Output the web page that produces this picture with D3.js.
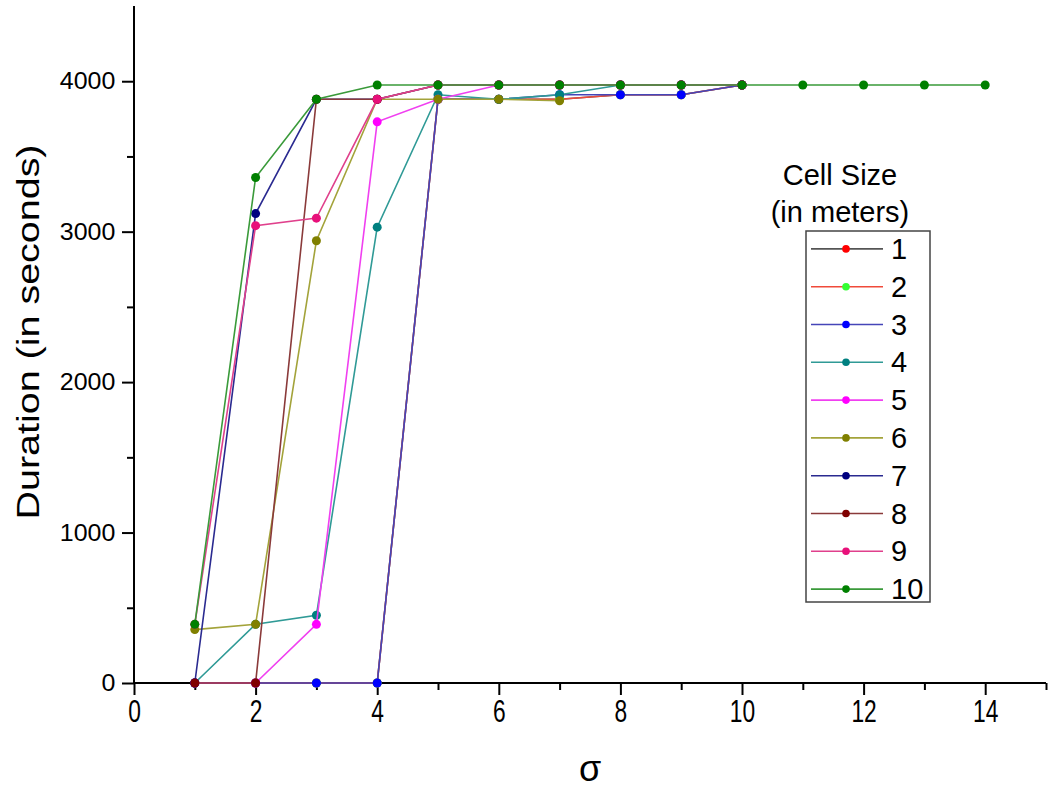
<!DOCTYPE html>
<html>
<head>
<meta charset="utf-8">
<script src="https://cdn.jsdelivr.net/npm/d3@7"></script>
<style>
  body { margin: 0; background: #fff; }
  text { font-family: "Liberation Sans", Arial, sans-serif; fill: #000; }
</style>
</head>
<body>
<div id="chart"></div>
<script>
// sigma values on the x axis
const sigma = [1, 2, 3, 4, 5, 6, 7, 8, 9, 10, 11, 12, 13, 14];

// duration (s) per cell size
const cell1 = [0, 0, 0, 0, 3880, 3880, 3880, 3910, 3910, 3975];
const cell2 = [0, 0, 0, 0, 3880, 3880, 3880, 3910, 3910, 3975];
const cell3 = [0, 0, 0, 0, 3880, 3880, 3910, 3910, 3910, 3975];
const cell4 = [0, 390, 450, 3030, 3910, 3880, 3910, 3975, 3975, 3975];
const cell5 = [0, 0, 390, 3730, 3880, 3975, 3975, 3975, 3975, 3975];
const cell6 = [355, 390, 2940, 3880, 3880, 3880, 3870];
const cell7 = [0, 3120, 3880, 3880, 3975, 3975, 3975, 3975, 3975, 3975];
const cell8 = [0, 0, 3880, 3880, 3975, 3975, 3975, 3975, 3975, 3975];
const cell9 = [390, 3040, 3090, 3880, 3975, 3975, 3975, 3975, 3975, 3975];
const cell10 = [390, 3360, 3880, 3975, 3975, 3975, 3975, 3975, 3975, 3975, 3975, 3975, 3975, 3975];

const seriesNames = ["1", "2", "3", "4", "5", "6", "7", "8", "9", "10"];
const seriesValues = [cell1, cell2, cell3, cell4, cell5, cell6, cell7, cell8, cell9, cell10];

// line colour / marker colour for each series
const lineColors = ["#555555", "#f04a3a", "#4545b8", "#2f9a96", "#f040f0", "#a3a33a", "#2a2a90", "#8a3a3a", "#e0408c", "#3a9a3a"];
const dotColors = ["#ff0000", "#33ff33", "#0000ff", "#008080", "#ff00ff", "#808000", "#000080", "#800000", "#e8107a", "#008000"];

const xTicks = [0, 1, 2, 3, 4, 5, 6, 7, 8, 9, 10, 11, 12, 13, 14, 15];
const yTicks = [0, 500, 1000, 1500, 2000, 2500, 3000, 3500, 4000];

const W = 1050, H = 791;

const svg = d3.select("#chart")
  .append("svg")
  .attr("width", W)
  .attr("height", H);

const x = d3.scaleLinear().domain([0, 15]).range([134, 1046]);
const y = d3.scaleLinear().domain([0, 4500]).range([683, 6]);

// y axis: major ticks every 1000 with labels, minor every 500
const yAxis = svg.append("g")
  .attr("transform", "translate(" + x(0) + ",0)")
  .call(d3.axisLeft(y)
    .tickValues(yTicks)
    .tickSize(12)
    .tickPadding(6)
    .tickFormat(d => d % 1000 === 0 ? d : ""));
yAxis.select(".domain").attr("d", "M0," + y(4500) + "V" + y(0));
yAxis.selectAll(".tick line")
  .attr("x2", d => d % 1000 === 0 ? -12 : -7);
yAxis.selectAll("text")
  .attr("transform", "scale(1.04,1)")
  .style("font-size", "24px")
  .style("font-family", "Liberation Sans, Arial, sans-serif");

// x axis: ticks every 1, labels every 2
const xAxis = svg.append("g")
  .attr("transform", "translate(0," + y(0) + ")")
  .call(d3.axisBottom(x)
    .tickValues(xTicks)
    .tickSize(12)
    .tickFormat(""));
xAxis.select(".domain").attr("d", "M" + x(0) + ",0H" + x(15));
xAxis.selectAll(".tick line")
  .attr("y2", d => d % 2 === 0 ? 12 : 7);
xAxis.selectAll(".tick")
  .filter(d => d % 2 === 0 && d <= 14)
  .append("text")
  .attr("transform", "translate(0,39) scale(0.95,1.3)")
  .attr("text-anchor", "middle")
  .style("font-size", "24px")
  .style("fill", "#000")
  .text(d => d);

svg.selectAll(".domain, .tick line").attr("stroke", "#000").attr("stroke-width", 2);

// axis titles
svg.append("text")
  .attr("transform", "translate(39,332) rotate(-90)")
  .attr("text-anchor", "middle")
  .attr("textLength", 375)
  .attr("lengthAdjust", "spacingAndGlyphs")
  .style("font-size", "32px")
  .text("Duration (in seconds)");

svg.append("text")
  .attr("x", 590)
  .attr("y", 781)
  .attr("text-anchor", "middle")
  .style("font-size", "36px")
  .text("σ");

// series
const line = d3.line()
  .x((d, i) => x(sigma[i]))
  .y(d => y(d));

seriesValues.forEach(function (vals, s) {
  const g = svg.append("g");
  g.append("path")
    .attr("d", line(vals))
    .attr("fill", "none")
    .attr("stroke", lineColors[s])
    .attr("stroke-width", 1.6);
  g.selectAll("circle")
    .data(vals)
    .enter()
    .append("circle")
    .attr("cx", (d, i) => x(sigma[i]))
    .attr("cy", d => y(d))
    .attr("r", 4.5)
    .attr("fill", dotColors[s]);
});

// legend
const legend = svg.append("g");
legend.append("text")
  .attr("x", 840).attr("y", 185)
  .attr("text-anchor", "middle")
  .style("font-size", "29px")
  .text("Cell Size");
legend.append("text")
  .attr("x", 840).attr("y", 222)
  .attr("text-anchor", "middle")
  .style("font-size", "29px")
  .text("(in meters)");
legend.append("rect")
  .attr("x", 806).attr("y", 231)
  .attr("width", 124).attr("height", 371)
  .attr("fill", "none")
  .attr("stroke", "#444")
  .attr("stroke-width", 1.5);

const row = d3.scaleBand().domain(seriesNames).range([231, 609]);
const items = legend.selectAll(".item")
  .data(seriesNames)
  .enter()
  .append("g")
  .attr("transform", d => "translate(0," + (row(d) + row.bandwidth() / 2 - 1) + ")");
items.append("line")
  .attr("x1", 811).attr("x2", 883)
  .attr("stroke", (d, i) => lineColors[i])
  .attr("stroke-width", 1.6);
items.append("circle")
  .attr("cx", 846).attr("r", 3.8)
  .attr("fill", (d, i) => dotColors[i]);
items.append("text")
  .attr("x", 891).attr("y", 10)
  .style("font-size", "29px")
  .text(d => d);
</script>
</body>
</html>
